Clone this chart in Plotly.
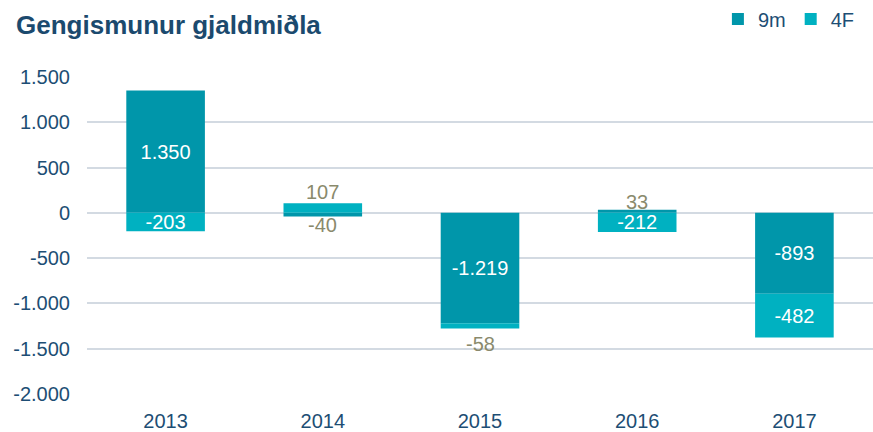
import plotly.graph_objects as go

years = ["2013", "2014", "2015", "2016", "2017"]
s9m = [1350, -40, -1219, 33, -893]
s4f = [-203, 107, -58, -212, -482]
series_names = ["9m", "4F"]
tick_vals = [1500, 1000, 500, 0, -500, -1000, -1500, -2000]
tick_text = ["1.500", "1.000", "500", "0", "-500", "-1.000", "-1.500", "-2.000"]

colors = ["#0096AA", "#00B1C1"]
FONT = "Liberation Sans, Arial"
NAVY = "#1D4E74"
# pixel offset of outside labels from the bar end, per (series, category index)
label_offset = {("9m", 1): 9, ("4F", 1): 11, ("4F", 2): 15, ("9m", 3): 8}


def fmt(v):
    return f"{v:,}".replace(",", ".")


fig = go.Figure()
pos_cum = [0] * len(years)
neg_cum = [0] * len(years)
annotations = []
for name, vals, col in zip(series_names, [s9m, s4f], colors):
    texts = []
    for i, v in enumerate(vals):
        if v >= 0:
            pos_cum[i] += v
            end = pos_cum[i]
        else:
            neg_cum[i] += v
            end = neg_cum[i]
        if abs(v) < 120:
            texts.append("")
            off = label_offset.get((name, i), 10)
            annotations.append(dict(
                x=i, y=end, text=fmt(v), showarrow=False,
                xref="x", yref="y", yanchor="middle",
                yshift=off if v > 0 else -off,
                font=dict(color="#8A8A6C", size=20, family=FONT),
            ))
        else:
            texts.append(fmt(v))
    fig.add_trace(go.Bar(
        x=years, y=vals, name=name, marker=dict(color=col, line=dict(width=0)),
        text=texts, textposition="inside", insidetextanchor="middle",
        textfont=dict(color="white", size=20, family=FONT),
        constraintext="none", hoverinfo="skip",
    ))

fig.update_layout(
    width=873, height=432,
    barmode="relative", bargap=0.5,
    paper_bgcolor="white", plot_bgcolor="white",
    margin=dict(l=87, r=0, t=77, b=35),
    font=dict(family=FONT, size=20, color=NAVY),
    annotations=annotations,
    title=dict(text="<b>Gengismunur gjaldmiðla</b>", x=16 / 873, xref="container",
               xanchor="left", y=1 - 25 / 432, yref="container", yanchor="middle",
               font=dict(size=26, color="#1B4A6E", family=FONT)),
    legend=dict(orientation="h", xref="container", yref="container",
                x=0.985, xanchor="right", y=1 - 19 / 432, yanchor="middle",
                font=dict(size=20, color=NAVY), itemwidth=30,
                tracegroupgap=0),
    showlegend=True,
    xaxis=dict(type="category", showgrid=False, showline=False, ticks="",
               ticklabelstandoff=13, tickfont=dict(size=20, color=NAVY)),
    yaxis=dict(range=[-2000, 1500], tickvals=tick_vals, ticktext=tick_text,
               showgrid=True, gridcolor="#D3DAE2", gridwidth=1.5, zeroline=False,
               showline=False, ticks="", ticklabelstandoff=16,
               tickfont=dict(size=20, color=NAVY)),
)

fig.write_html("out.html", config={"displayModeBar": False},
               post_script="document.body.style.margin='0';")
